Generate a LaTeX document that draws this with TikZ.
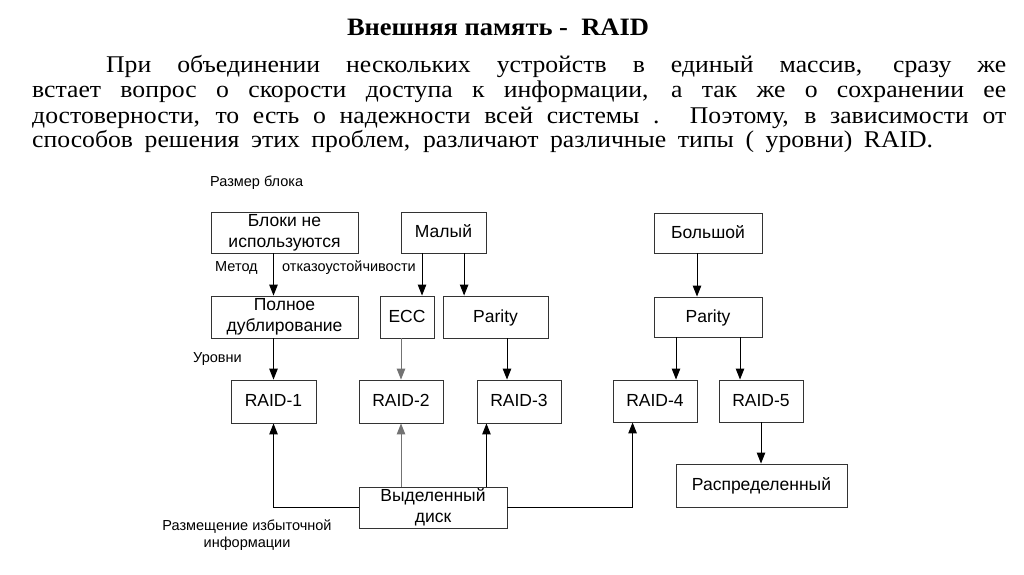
\documentclass[tikz,border=0pt]{standalone}
\usepackage{fontspec}
\setmainfont{Liberation Serif}
\setsansfont{Liberation Sans}
\newfontfamily\bodyfont{Liberation Serif}[FakeStretch=1.07]
\newfontfamily\titlefont{Liberation Serif}[FakeStretch=1.06]
\usetikzlibrary{arrows.meta,calc}
\begin{document}
\begin{tikzpicture}[x=1pt,y=-1pt,
  box/.style={draw=black!80, line width=0.9pt, fill=white, inner sep=0pt, align=center,
    font=\sffamily\fontsize{17.5}{21}\selectfont},
  onebox/.style={box, text height=12.5pt, text depth=2.5pt},
  lbl/.style={font=\sffamily\fontsize{14.5}{17}\selectfont, inner sep=0pt, anchor=west},
  arr/.style={line width=1pt, draw=black, -{Triangle[length=11pt,width=8.5pt]}},
  gry/.style={draw=black!55},
  para/.style={anchor=base west, inner sep=0pt, font=\bodyfont\fontsize{24}{26}\selectfont}]
\useasboundingbox (0,0) rectangle (1024,574);
\fill[white] (0,0) rectangle (1024,574);

% title and paragraph
\node[anchor=base, inner sep=0pt, font=\titlefont\bfseries\fontsize{25}{28}\selectfont] (title) at (498,35) {Внешняя память -\ \ RAID};
\node[para] (l1) at (106,72) {\makebox[900pt][s]{При объединении нескольких устройств в единый массив, сразу же}};
\node[para] (l2) at (32,97) {\makebox[974pt][s]{встает вопрос о скорости доступа к информации, а так же о сохранении ее}};
\node[para] (l3) at (32,123) {\makebox[974pt][s]{достоверности, то есть о надежности всей системы . Поэтому, в зависимости от}};
\node[para] (l4) at (32,147) {\makebox[901pt][s]{способов решения этих проблем, различают различные типы ( уровни) RAID.}};

% boxes
\node[box, minimum width=147pt, minimum height=41pt] (blk) at (284.5,232.5) {Блоки не\\используются};
\node[onebox, minimum width=85pt, minimum height=41pt] (mal) at (443.5,232.5) {Малый};
\node[onebox, minimum width=108pt, minimum height=40pt] (bol) at (708,233) {Большой};
\node[box, minimum width=147pt, minimum height=42pt] (pol) at (284.5,317) {Полное\\дублирование};
\node[onebox, minimum width=54pt, minimum height=42pt] (ecc) at (407,317) {ECC};
\node[onebox, minimum width=105pt, minimum height=42pt] (par1) at (495.5,317) {Parity};
\node[onebox, minimum width=108pt, minimum height=40pt] (par2) at (708,317) {Parity};
\node[onebox, minimum width=85pt, minimum height=43pt] (r1) at (273.5,401.5) {RAID-1};
\node[onebox, minimum width=84pt, minimum height=43pt] (r2) at (401,401.5) {RAID-2};
\node[onebox, minimum width=84pt, minimum height=43pt] (r3) at (519,401.5) {RAID-3};
\node[onebox, minimum width=84pt, minimum height=42pt] (r4) at (655,401) {RAID-4};
\node[onebox, minimum width=84pt, minimum height=42pt] (r5) at (761,401) {RAID-5};
\node[box, minimum width=148pt, minimum height=41pt] (vyd) at (433,507.5) {Выделенный\\диск};
\node[onebox, minimum width=171pt, minimum height=43pt] (ras) at (761.5,485.5) {Распределенный};

% labels
\node[lbl] (t1) at (210,183) {Размер блока};
\node[lbl] (t2) at (215,268) {Метод};
\node[lbl] (t3) at (282,268) {отказоустойчивости};
\node[lbl] (t4) at (193,359) {Уровни};
\node[lbl, anchor=center, align=center] (t5) at (247,535) {Размещение избыточной\\информации};

% connectors
\draw[arr] (blk.south -| r1.north) -- (pol.north -| r1.north);
\draw[arr] (pol.south -| r1.north) -- (r1.north);
\coordinate (m1) at ($(mal.south west)!0.25!(mal.south east)$);
\draw[arr] (m1) -- (m1 |- ecc.north);
\coordinate (m2) at ($(mal.south west)!0.74!(mal.south east)$);
\draw[arr] (m2) -- (m2 |- par1.north);
\draw[arr,gry] (ecc.south -| r2.north) -- (r2.north);
\coordinate (p1) at ($(par1.south)+(11.5,0)$);
\draw[arr] (p1) -- (p1 |- r3.north);
\coordinate (b1) at ($(bol.south)+(-11,0)$);
\draw[arr] (b1) -- (b1 |- par2.north);
\coordinate (q1) at ($(par2.south)+(-32,0)$);
\draw[arr] (q1) -- (q1 |- r4.north);
\coordinate (q2) at ($(par2.south)+(32,0)$);
\draw[arr] (q2) -- (q2 |- r5.north);
\draw[arr] (r5.south) -- (r5.south |- ras.north);
\draw[arr,gry] (vyd.north -| r2.south) -- (r2.south);
\coordinate (v3) at ($(vyd.north east)+(-21,0)$);
\draw[arr] (v3) -- (v3 |- r3.south);
\draw[arr] (vyd.west) -| (r1.south);
\coordinate (v4) at ($(r4.south west)+(20,0)$);
\draw[arr] (vyd.east) -| (v4);
\end{tikzpicture}
\end{document}
